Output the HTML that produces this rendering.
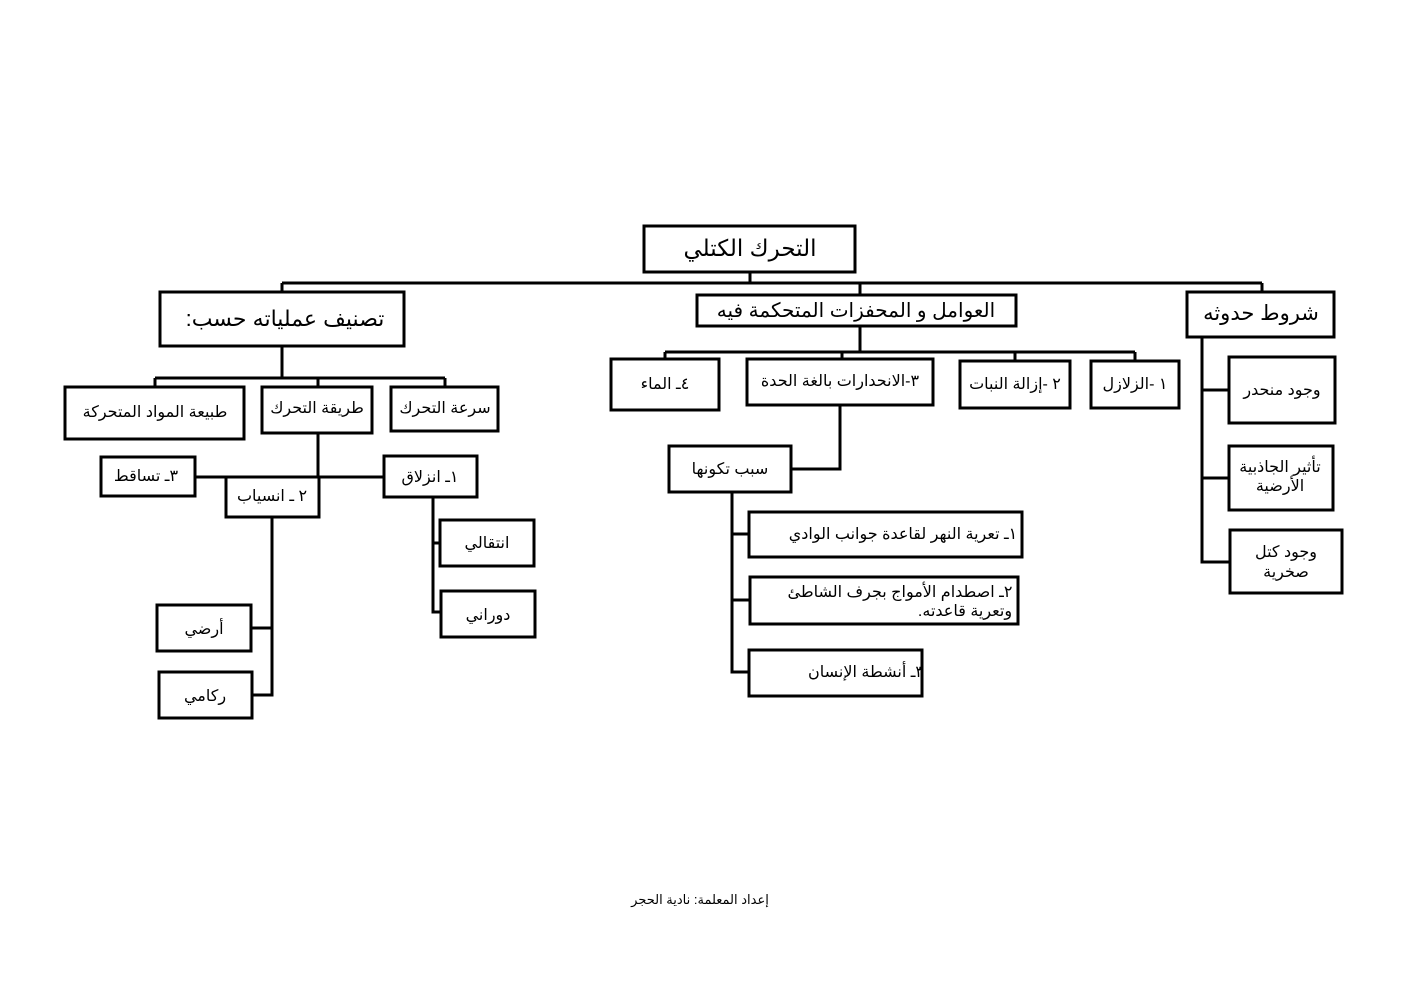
<!DOCTYPE html>
<html><head><meta charset="utf-8"><style>
html,body{margin:0;padding:0;background:#fff;}
svg{display:block}
text{font-family:"Liberation Sans","DejaVu Sans",sans-serif;fill:#000;text-anchor:middle;direction:rtl;unicode-bidi:plaintext}
</style></head><body>
<svg width="1403" height="992" viewBox="0 0 1403 992" xmlns="http://www.w3.org/2000/svg">
<g fill="none" stroke="#000" stroke-width="3">
<path d="M750 272V283M282 283H1262M282 283V292M860 283V295M1262 283V292"/>
<path d="M282 346V378M155 378H445M155 378V387M318 378V387M445 378V387"/>
<path d="M318 433V477M195 477H384"/>
<path d="M433 497V612H441M433 543H440"/>
<path d="M272 517V695H252M272 628H251"/>
<path d="M860 326V352M665 352H1135M665 352V359M842 352V359M1015 352V361M1135 352V361"/>
<path d="M840 405V469H791"/>
<path d="M732 492V672H749M732 534H749M732 600H750"/>
<path d="M1202 337V562H1230M1202 390H1229M1202 478H1229"/>
<rect x="644" y="226" width="211" height="46"/>
<rect x="160" y="292" width="244" height="54"/>
<rect x="697" y="295" width="319" height="31"/>
<rect x="1187" y="292" width="147" height="45"/>
<rect x="65" y="387" width="179" height="52"/>
<rect x="262" y="387" width="110" height="46"/>
<rect x="391" y="387" width="107" height="44"/>
<rect x="101" y="457" width="94" height="39"/>
<rect x="226" y="477" width="93" height="40"/>
<rect x="384" y="456" width="93" height="41"/>
<rect x="440" y="520" width="94" height="46"/>
<rect x="441" y="591" width="94" height="46"/>
<rect x="157" y="605" width="94" height="46"/>
<rect x="159" y="672" width="93" height="46"/>
<rect x="611" y="359" width="108" height="51"/>
<rect x="747" y="359" width="186" height="46"/>
<rect x="960" y="361" width="110" height="47"/>
<rect x="1091" y="361" width="88" height="47"/>
<rect x="669" y="446" width="122" height="46"/>
<rect x="749" y="512" width="273" height="45"/>
<rect x="750" y="577" width="268" height="47"/>
<rect x="749" y="650" width="173" height="46"/>
<rect x="1229" y="357" width="106" height="66"/>
<rect x="1229" y="446" width="104" height="64"/>
<rect x="1230" y="530" width="112" height="63"/>
</g>
<text x="750" y="256" font-size="23">التحرك الكتلي</text>
<text x="285" y="326" font-size="22">تصنيف عملياته حسب:</text>
<text x="856" y="317" font-size="20">العوامل و المحفزات المتحكمة فيه</text>
<text x="1261" y="320" font-size="21">شروط حدوثه</text>
<text x="155" y="417" font-size="16">طبيعة المواد المتحركة</text>
<text x="317" y="413" font-size="16">طريقة التحرك</text>
<text x="445" y="413" font-size="16">سرعة التحرك</text>
<text x="146" y="481" font-size="16">٣ـ تساقط</text>
<text x="272" y="501" font-size="16">٢ ـ انسياب</text>
<text x="430" y="482" font-size="16">١ـ انزلاق</text>
<text x="487" y="548" font-size="16">انتقالي</text>
<text x="488" y="620" font-size="16">دوراني</text>
<text x="204" y="634" font-size="16">أرضي</text>
<text x="205" y="701" font-size="16">ركامي</text>
<text x="665" y="389" font-size="16">٤ـ الماء</text>
<text x="840" y="386" font-size="16">٣-الانحدارات بالغة الحدة</text>
<text x="1015" y="389" font-size="16">٢ -إزالة النبات</text>
<text x="1135" y="389" font-size="16">١ -الزلازل</text>
<text x="730" y="474" font-size="16">سبب تكونها</text>
<text x="903" y="539" font-size="16">١ـ تعرية النهر لقاعدة جوانب الوادي</text>
<text x="900" y="597" font-size="16">٢ـ اصطدام الأمواج بجرف الشاطئ</text>
<text x="965" y="616" font-size="16">وتعرية قاعدته.</text>
<text x="866" y="677" font-size="16">٣ـ أنشطة الإنسان</text>
<text x="1282" y="395" font-size="16">وجود منحدر</text>
<text x="1280" y="472" font-size="16">تأثير الجاذبية</text>
<text x="1280" y="491" font-size="16">الأرضية</text>
<text x="1286" y="557" font-size="16">وجود كتل</text>
<text x="1286" y="577" font-size="16">صخرية</text>
<text x="700" y="904" font-size="13">إعداد المعلمة: نادية الحجر</text>
</svg>
</body></html>
